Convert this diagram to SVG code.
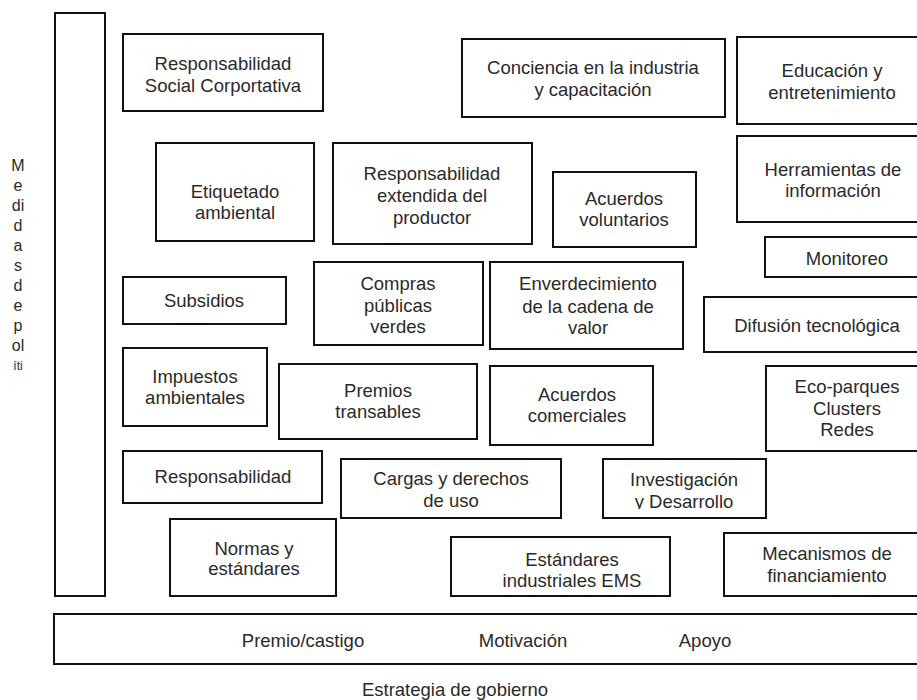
<svg xmlns="http://www.w3.org/2000/svg" width="917" height="700" viewBox="0 0 917 700">
<style>
.b{fill:#fff;stroke:#111;stroke-width:2}
text{font-family:"Liberation Sans",Arial,sans-serif;font-size:18.5px;fill:#2a2a2a;text-anchor:middle}
.v{font-size:16px}
</style>
<defs>
<clipPath id="cInv"><rect x="600" y="455" width="170" height="54"/></clipPath>
</defs>
<rect width="917" height="700" fill="#fff"/>
<g id="connectors"></g>
<g id="medidas">
<rect class="b" x="55" y="13" width="50" height="583"/>
<text class="v" x="18" y="171">M</text>
<text class="v" x="18" y="191">e</text>
<text class="v" x="18" y="211">di</text>
<text class="v" x="18" y="231">d</text>
<text class="v" x="18" y="251">a</text>
<text class="v" x="18" y="271">s</text>
<text class="v" x="18" y="291">d</text>
<text class="v" x="18" y="311">e</text>
<text class="v" x="18" y="331">p</text>
<text class="v" x="18" y="351">ol</text>
<text x="18" y="370" style="font-size:12px">íti</text>
</g>
<g id="n1"><rect class="b" x="123" y="34" width="200" height="77"/><text x="223" y="70">Responsabilidad</text><text x="223" y="92">Social Corportativa</text></g>
<g id="n2"><rect class="b" x="462" y="39" width="263" height="78"/><text x="593" y="74">Conciencia en la industria</text><text x="593" y="96">y capacitación</text></g>
<g id="n3"><rect class="b" x="737" y="37" width="193" height="87"/><text x="832" y="77">Educación y</text><text x="832" y="99">entretenimiento</text></g>
<g id="n4"><rect class="b" x="156" y="143" width="158" height="98"/><text x="235" y="198">Etiquetado</text><text x="235" y="219">ambiental</text></g>
<g id="n5"><rect class="b" x="333" y="143" width="199" height="101"/><text x="432" y="180">Responsabilidad</text><text x="432" y="202">extendida del</text><text x="432" y="224">productor</text></g>
<g id="n6"><rect class="b" x="553" y="172" width="143" height="75"/><text x="624" y="205">Acuerdos</text><text x="624" y="226">voluntarios</text></g>
<g id="n7"><rect class="b" x="737" y="136" width="193" height="86"/><text x="833" y="176">Herramientas de</text><text x="833" y="197">información</text></g>
<g id="n8"><rect class="b" x="765" y="237" width="165" height="40"/><text x="847" y="265">Monitoreo</text></g>
<g id="n9"><rect class="b" x="123" y="277" width="163" height="47"/><text x="204" y="307">Subsidios</text></g>
<g id="n10"><rect class="b" x="314" y="262" width="169" height="83"/><text x="398" y="290">Compras</text><text x="398" y="312">públicas</text><text x="398" y="333">verdes</text></g>
<g id="n11"><rect class="b" x="490" y="262" width="193" height="87"/><text x="588" y="290">Enverdecimiento</text><text x="588" y="313">de la cadena de</text><text x="588" y="334">valor</text></g>
<g id="n12"><rect class="b" x="704" y="297" width="226" height="55"/><text x="817" y="332">Difusión tecnológica</text></g>
<g id="n13"><rect class="b" x="123" y="348" width="144" height="78"/><text x="195" y="383">Impuestos</text><text x="195" y="404">ambientales</text></g>
<g id="n14"><rect class="b" x="279" y="364" width="198" height="75"/><text x="378" y="397">Premios</text><text x="378" y="418">transables</text></g>
<g id="n15"><rect class="b" x="490" y="366" width="163" height="79"/><text x="577" y="401">Acuerdos</text><text x="577" y="422">comerciales</text></g>
<g id="n16"><rect class="b" x="766" y="366" width="164" height="85"/><text x="847" y="393">Eco-parques</text><text x="847" y="415">Clusters</text><text x="847" y="436">Redes</text></g>
<g id="n17"><rect class="b" x="123" y="451" width="199" height="52"/><text x="223" y="483">Responsabilidad</text></g>
<g id="n18"><rect class="b" x="341" y="459" width="220" height="59"/><text x="451" y="485">Cargas y derechos</text><text x="451" y="507">de uso</text></g>
<g id="n19"><rect class="b" x="603" y="459" width="163" height="59"/><text x="684" y="486">Investigación</text><text x="684" y="508" clip-path="url(#cInv)">y Desarrollo</text></g>
<g id="n20"><rect class="b" x="170" y="519" width="166" height="77"/><text x="254" y="555">Normas y</text><text x="254" y="575">estándares</text></g>
<g id="n21"><rect class="b" x="451" y="537" width="219" height="59"/><text x="572" y="566">Estándares</text><text x="572" y="587">industriales EMS</text></g>
<g id="n22"><rect class="b" x="724" y="533" width="206" height="63"/><text x="827" y="560">Mecanismos de</text><text x="827" y="582">financiamiento</text></g>
<g id="estrategia">
<rect class="b" x="54" y="614" width="876" height="50"/>
<text x="303" y="647">Premio/castigo</text>
<text x="523" y="647">Motivación</text>
<text x="705" y="647">Apoyo</text>
<text x="455" y="696">Estrategia de gobierno</text>
</g>
</svg>
